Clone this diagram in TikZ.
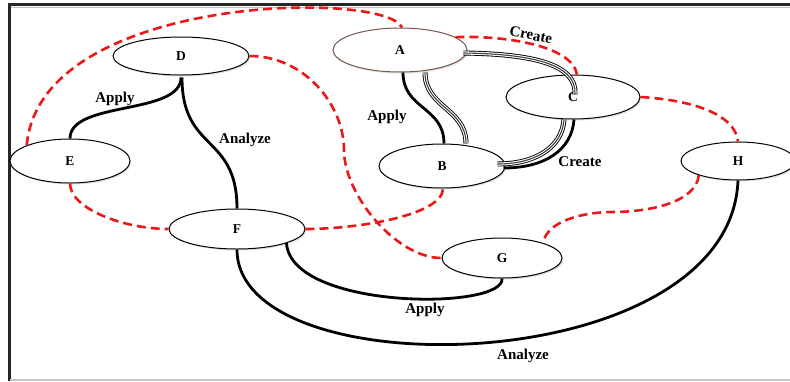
\documentclass[tikz,border=0pt]{standalone}
\usepackage{fontspec}
\setmainfont{Liberation Serif}
\usetikzlibrary{shapes.geometric,shadows}
\definecolor{dashred}{RGB}{236,24,24}
\definecolor{rimbrown}{RGB}{120,84,76}
\begin{document}
\begin{tikzpicture}[x=1pt,y=1pt,
  state/.style={ellipse, draw=black, line width=1pt, fill=white, inner sep=0pt,
    drop shadow={shadow xshift=1.2pt, shadow yshift=-1.5pt, opacity=0.25},
    font=\bfseries\fontsize{13.5}{15}\selectfont},
  link/.style={line width=2.8pt, line cap=butt},
  tie/.style={line width=2.6pt, draw=dashred, dash pattern=on 9pt off 5pt},
  triple/.style={line width=5pt, draw=black,
    postaction={draw=white, line width=3.2pt},
    postaction={draw=black!75, line width=1.1pt}},
  verb/.style={font=\bfseries\fontsize{15}{17}\selectfont, inner sep=0pt}
]
\useasboundingbox (0,0) rectangle (790,-381);

% frame
\draw[gray!50, line width=1pt] (11,-7) -- (790,-7);
\draw[black!85, line width=2.2pt] (9.5,-381) -- (9.5,-4.5) -- (790,-4.5);
\draw[gray!45, line width=1.4pt] (10,-380) -- (790,-380);

% states
\node[state, draw=rimbrown, minimum width=134pt, minimum height=44pt] (A) at (400,-50) {A};
\node[state, minimum width=126pt, minimum height=44pt] (B) at (442,-166) {B};
\node[state, minimum width=134pt, minimum height=44pt] (C) at (573,-97) {C};
\node[state, minimum width=136pt, minimum height=38pt] (D) at (181,-56) {D};
\node[state, minimum width=120pt, minimum height=44pt] (E) at (70,-161) {E};
\node[state, minimum width=136pt, minimum height=40pt] (F) at (237,-229) {F};
\node[state, minimum width=120pt, minimum height=40pt] (G) at (502,-258) {G};
\node[state, minimum width=114pt, minimum height=38pt] (H) at (738,-161) {H};

% dashed red ties
\draw[tie] (E.160) .. controls +(13,151) and +(-17,38) .. ([xshift=2pt]A.north);
\draw[tie] (A.13) .. controls +(45,2) and +(-5,30) .. ([xshift=4pt]C.north);
\draw[tie] (C.east) .. controls +(50,-3) and +(-3,28) .. (H.north);
\coordinate (hg) at (612,-212);
\draw[tie] (H.200) .. controls +(-3,-27) and +(38,0) .. (hg)
  .. controls +(-28,0) and +(3,22) .. (G.20);
\coordinate (dg) at (344,-150);
\draw[tie] (D.east) .. controls +(55,0) and +(0,45) .. (dg)
  .. controls +(0,-45) and +(-45,0) .. (G.west);
\draw[tie] (E.south) .. controls +(0,-25) and +(-45,0) .. (F.west);
\draw[tie] (F.east) .. controls +(55,0) and +(0,-26) .. ([xshift=1pt]B.south);

% black links
\draw[link] ([xshift=3pt]A.south) .. controls +(0,-37) and +(0,37) .. ([xshift=2pt]B.north);
\draw[triple] ([xshift=25pt]A.south) .. controls +(0,-35) and +(0,35) .. ([xshift=24pt]B.north);
\draw[triple] ([xshift=-4pt,yshift=-3pt]A.east) .. controls +(70,-1) and +(2,30) .. ([xshift=2pt,yshift=-20pt]C.north);
\draw[triple] ([xshift=-9pt]C.south) .. controls +(-2,-28) and +(38,0) .. ([xshift=-8pt,yshift=2pt]B.east);
\draw[link] ([xshift=1pt]C.south) .. controls +(-2,-30) and +(42,0) .. ([xshift=-2pt,yshift=-2pt]B.east);
\draw[link] ([yshift=-2pt]D.south) .. controls +(0,-38) and +(0,38) .. (E.north);
\draw[link] ([xshift=1pt,yshift=-2pt]D.south) .. controls +(0,-75) and +(0,75) .. (F.north);
\draw[link] (F.-16) .. controls +(5,-67) and +(3,-32) .. (G.south);
\draw[link] (F.south) .. controls +(0,-141) and +(-8,-200) .. (H.south);

% link labels
\node[verb, rotate=-11] (l1) at (531,-35) {Create};
\node[verb] (l2) at (387,-117) {Apply};
\node[verb] (l3) at (580,-162) {Create};
\node[verb] (l4) at (115,-99) {Apply};
\node[verb] (l5) at (245,-140) {Analyze};
\node[verb] (l6) at (425,-310) {Apply};
\node[verb] (l7) at (523,-356) {Analyze};
\end{tikzpicture}
\end{document}
